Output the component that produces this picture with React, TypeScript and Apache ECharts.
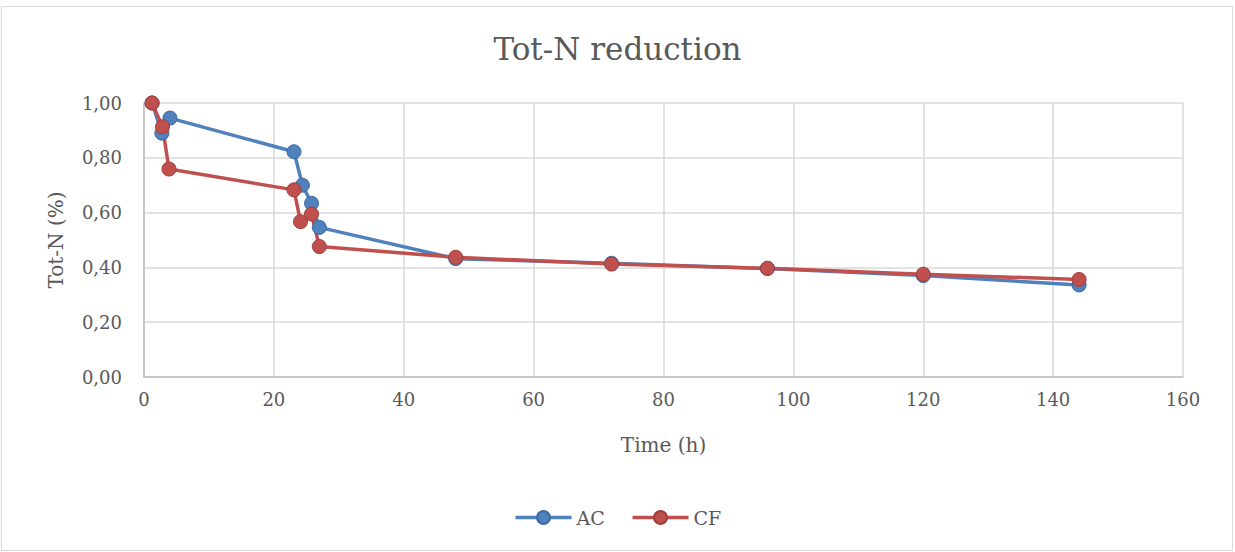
import React, { useEffect, useRef } from "react";
import * as echarts from "echarts";

const acTime = [1.25, 2.75, 4, 23.1, 24.4, 25.8, 27, 48, 72, 96, 120, 144];
const acValues = [1.0, 0.89, 0.945, 0.822, 0.70, 0.634, 0.546, 0.432, 0.415, 0.396, 0.37, 0.336];
const cfTime = [1.25, 2.85, 3.85, 23.1, 24.1, 25.8, 27, 48, 72, 96, 120, 144];
const cfValues = [1.0, 0.913, 0.759, 0.683, 0.567, 0.595, 0.476, 0.437, 0.412, 0.397, 0.375, 0.356];

const FONT = "'DejaVu Serif', serif";

export default function App() {
  const ref = useRef<HTMLDivElement>(null);
  useEffect(() => {
    document.body.style.margin = "0";
    const chart = echarts.init(ref.current!, null, { renderer: "svg" });
    const mk = (t: number[], v: number[]) => t.map((x, i) => [x, v[i]]);
    chart.setOption({
      animation: false,
      backgroundColor: "#ffffff",
      textStyle: { fontFamily: FONT },
      title: {
        text: "Tot-N reduction",
        left: "center",
        top: 28,
        textStyle: { fontFamily: FONT, fontSize: 31, fontWeight: "normal", color: "#595959" },
      },
      graphic: [
        {
          type: "rect",
          shape: { x: 1.5, y: 6.5, width: 1231, height: 544 },
          style: { fill: "none", stroke: "#D9D9D9", lineWidth: 1 },
          silent: true,
        },
      ],
      legend: {
        bottom: 20,
        left: "center",
        itemWidth: 56,
        itemHeight: 16,
        itemGap: 26,
        lineStyle: { width: 3.5 },
        textStyle: { fontFamily: FONT, fontSize: 19, color: "#595959" },
        data: ["AC", "CF"],
      },
      grid: { left: 144, right: 52, top: 103, bottom: 175 },
      xAxis: {
        type: "value",
        min: 0,
        max: 160,
        interval: 20,
        name: "Time (h)",
        nameLocation: "middle",
        nameGap: 58,
        nameTextStyle: { fontFamily: FONT, fontSize: 20, color: "#595959" },
        axisLine: { lineStyle: { color: "#BFBFBF", width: 1.5 } },
        axisTick: { show: false },
        axisLabel: { fontFamily: FONT, fontSize: 18, color: "#595959", margin: 13 },
        splitLine: { show: true, lineStyle: { color: "#D9D9D9", width: 1.5 } },
      },
      yAxis: {
        type: "value",
        min: 0,
        max: 1,
        interval: 0.2,
        name: "Tot-N (%)",
        nameLocation: "middle",
        nameGap: 78,
        nameRotate: 90,
        nameTextStyle: { fontFamily: FONT, fontSize: 20, color: "#595959" },
        axisLine: { show: true, lineStyle: { color: "#BFBFBF", width: 1.5 } },
        axisTick: { show: false },
        axisLabel: {
          fontFamily: FONT,
          fontSize: 18,
          color: "#595959",
          margin: 22,
          formatter: (v: number) => v.toFixed(2).replace(".", ","),
        },
        splitLine: { show: true, lineStyle: { color: "#D9D9D9", width: 1.5 } },
      },
      series: [
        {
          name: "AC",
          type: "line",
          data: mk(acTime, acValues),
          symbol: "circle",
          symbolSize: 14,
          lineStyle: { color: "#4F81BD", width: 3.5 },
          itemStyle: { color: "#4F81BD", borderColor: "#3D6A9E", borderWidth: 1 },
        },
        {
          name: "CF",
          type: "line",
          data: mk(cfTime, cfValues),
          symbol: "circle",
          symbolSize: 14,
          lineStyle: { color: "#C0504D", width: 3.5 },
          itemStyle: { color: "#C0504D", borderColor: "#A03E3B", borderWidth: 1 },
        },
      ],
    });
    return () => chart.dispose();
  }, []);
  return <div ref={ref} style={{ position: "absolute", left: 0, top: 0, width: 1235, height: 552 }} />;
}
